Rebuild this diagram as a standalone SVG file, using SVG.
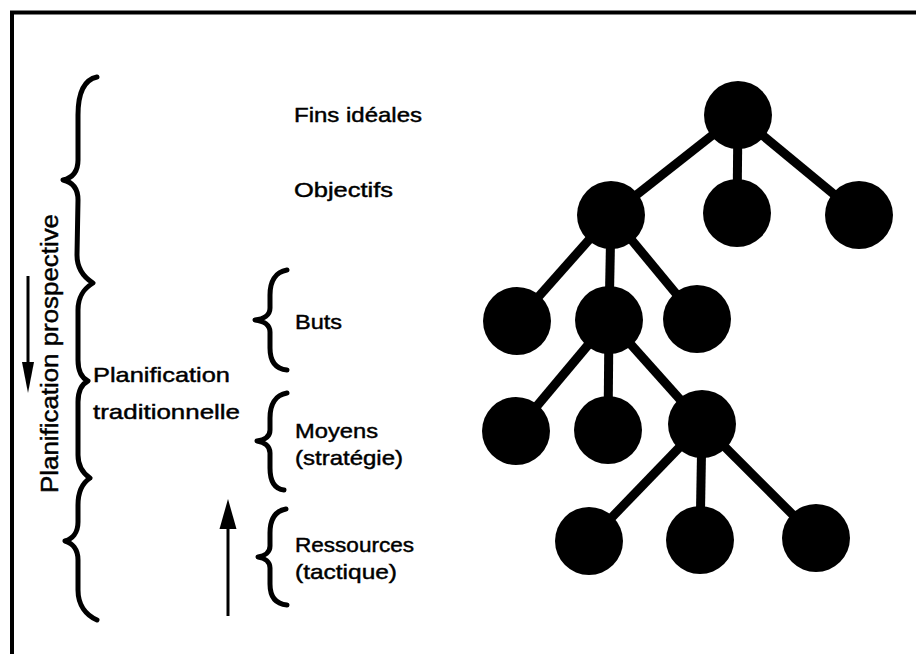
<svg xmlns="http://www.w3.org/2000/svg" width="916" height="654" viewBox="0 0 916 654">
<style>
.lbl{font-family:"Liberation Sans",Arial,sans-serif;font-size:21px;fill:#000;stroke:#000;stroke-width:0.45;}
.vl{font-family:"Liberation Sans",Arial,sans-serif;font-size:23px;fill:#000;stroke:#000;stroke-width:0.45;}
.brace{fill:none;stroke:#000;stroke-width:5;stroke-linecap:round;stroke-linejoin:round;}
.edge{stroke:#000;stroke-width:9;}
.node{fill:#000;}
.arr{stroke:#000;stroke-width:3;fill:none;}
</style>
<rect width="916" height="654" fill="#fff"/>
<g id="frame">
<line x1="12" y1="11" x2="12" y2="654" stroke="#000" stroke-width="4"/>
<line x1="10" y1="12.5" x2="916" y2="12.5" stroke="#000" stroke-width="4"/>
</g>
<g id="left-braces">
<path class="brace" d="M97,77 C83,80 78,95 78,115 L78,160 C78,172 72,178 63,180 C72,182 78,188 78,200 L77,255 C77,270 85,278 93,283 C85,288 78,295 78,310 L78,360 C78,372 82,378 88,381 C82,384 78,390 78,402 L78,455 C78,468 84,474 90,478 C84,482 78,490 78,505 L78,522 C78,533 72,539 65,541 C72,543 78,549 78,560 L78,590 C78,605 86,615 97,620"/>
</g>
<g id="brace-buts">
<path class="brace" d="M287,270 C275,272 270,282 270,295 L270,308 C270,315 264,319 255,320 C264,321 270,325 270,332 L270,348 C270,362 276,369 287,370"/>
</g>
<g id="brace-moyens">
<path class="brace" d="M287,393 C275,395 270,405 270,418 L270,430 C270,437 264,440 257,441 C264,442 270,446 270,453 L270,468 C270,482 275,489 284,490"/>
</g>
<g id="brace-ressources">
<path class="brace" d="M286,509 C275,511 270,520 270,533 L270,546 C270,552 265,556 258,557 C265,558 270,562 270,568 L270,584 C270,597 276,604 287,605"/>
</g>
<g id="arrows">
<line class="arr" x1="28" y1="276" x2="28" y2="372"/>
<path d="M22,362 L34,362 L28,393 Z" fill="#000"/>
<line class="arr" x1="228" y1="616" x2="228" y2="520"/>
<path d="M219.5,529 L236.5,529 L228,499 Z" fill="#000"/>
</g>
<g id="label-prospective">
<text class="vl" transform="translate(58,493) rotate(-90)" textLength="279" lengthAdjust="spacingAndGlyphs">Planification  prospective</text>
</g>
<g id="label-traditionnelle">
<text class="lbl" x="93" y="382" textLength="137" lengthAdjust="spacingAndGlyphs">Planification</text>
<text class="lbl" x="93" y="419" textLength="147" lengthAdjust="spacingAndGlyphs">traditionnelle</text>
</g>
<g id="label-fins"><text class="lbl" x="294" y="122" textLength="128" lengthAdjust="spacingAndGlyphs">Fins idéales</text></g>
<g id="label-objectifs"><text class="lbl" x="294" y="197" textLength="99" lengthAdjust="spacingAndGlyphs">Objectifs</text></g>
<g id="label-buts"><text class="lbl" x="295" y="329" textLength="47" lengthAdjust="spacingAndGlyphs">Buts</text></g>
<g id="label-moyens">
<text class="lbl" x="295" y="438" textLength="83" lengthAdjust="spacingAndGlyphs">Moyens</text>
<text class="lbl" x="295" y="465" textLength="108" lengthAdjust="spacingAndGlyphs">(stratégie)</text>
</g>
<g id="label-ressources">
<text class="lbl" x="295" y="552" textLength="119" lengthAdjust="spacingAndGlyphs">Ressources</text>
<text class="lbl" x="295" y="579" textLength="102" lengthAdjust="spacingAndGlyphs">(tactique)</text>
</g>
<g id="connectors">
<line class="edge" x1="738" y1="115" x2="611" y2="215"/>
<line class="edge" x1="738" y1="115" x2="737" y2="213"/>
<line class="edge" x1="738" y1="115" x2="859" y2="215"/>
<line class="edge" x1="611" y1="215" x2="517" y2="321"/>
<line class="edge" x1="611" y1="215" x2="609" y2="320"/>
<line class="edge" x1="611" y1="215" x2="697" y2="319"/>
<line class="edge" x1="609" y1="320" x2="516" y2="431"/>
<line class="edge" x1="609" y1="320" x2="608" y2="430"/>
<line class="edge" x1="609" y1="320" x2="702" y2="424"/>
<line class="edge" x1="702" y1="424" x2="589" y2="541"/>
<line class="edge" x1="702" y1="424" x2="700" y2="540"/>
<line class="edge" x1="702" y1="424" x2="816" y2="538"/>
</g>
<g id="n-root"><circle class="node" cx="738" cy="115" r="34"/></g>
<g id="n-obj1"><circle class="node" cx="611" cy="215" r="34"/></g>
<g id="n-obj2"><circle class="node" cx="737" cy="213" r="34"/></g>
<g id="n-obj3"><circle class="node" cx="859" cy="215" r="34"/></g>
<g id="n-but1"><circle class="node" cx="517" cy="321" r="34"/></g>
<g id="n-but2"><circle class="node" cx="609" cy="320" r="34"/></g>
<g id="n-but3"><circle class="node" cx="697" cy="319" r="34"/></g>
<g id="n-moy1"><circle class="node" cx="516" cy="431" r="34"/></g>
<g id="n-moy2"><circle class="node" cx="608" cy="430" r="34"/></g>
<g id="n-moy3"><circle class="node" cx="702" cy="424" r="34"/></g>
<g id="n-res1"><circle class="node" cx="589" cy="541" r="34"/></g>
<g id="n-res2"><circle class="node" cx="700" cy="540" r="34"/></g>
<g id="n-res3"><circle class="node" cx="816" cy="538" r="34"/></g>
</svg>
